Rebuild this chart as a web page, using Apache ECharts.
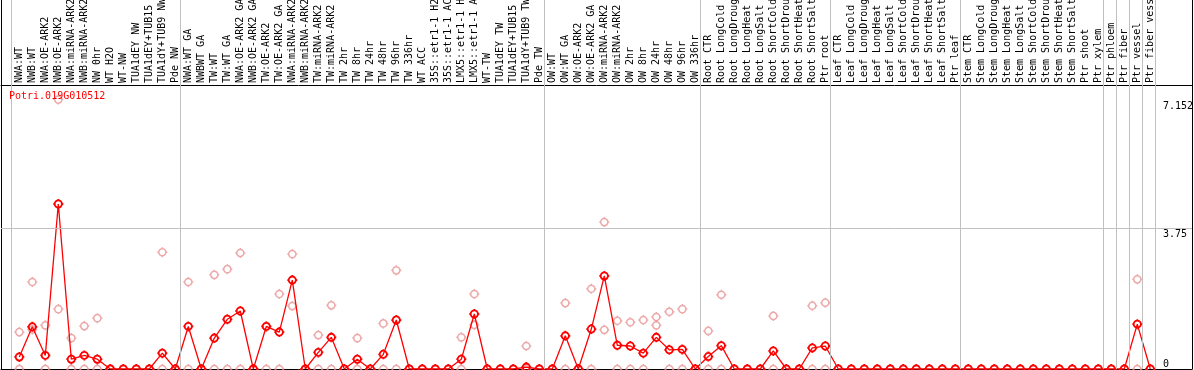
<!DOCTYPE html>
<html><head><meta charset="utf-8">
<script src="https://cdn.jsdelivr.net/npm/echarts@6/dist/echarts.min.js"></script>
<style>html,body{margin:0;padding:0;background:#fff}#c{width:1194px;height:370px}</style>
</head><body><div id="c"></div>
<script>
const seriesName = 'Potri.019G010512';
const categories = [
 'NWA:WT','NWB:WT','NWA:OE-ARK2','NWB:OE-ARK2','NWA:miRNA-ARK2','NWB:miRNA-ARK2','NW 0hr','WT H2O','WT-NW','TUA1dEY NW',
 'TUA1dEY+TUB15 NW','TUA1dY+TUB9 NW','Pde NW','NWA:WT GA','NWBWT GA','TW:WT','TW:WT GA','NWA:OE-ARK2 GA','NWB:OE-ARK2 GA','TW:OE-ARK2',
 'TW:OE-ARK2 GA','NWA:miRNA-ARK2 GA','NWB:miRNA-ARK2 GA','TW:miRNA-ARK2','TW:miRNA-ARK2 GA','TW 2hr','TW 8hr','TW 24hr','TW 48hr','TW 96hr',
 'TW 336hr','WT ACC','35S::etr1-1 H2O','35S::etr1-1 ACC','LMX5::etr1-1 H2O','LMX5::etr1-1 ACC','WT-TW','TUA1dEY TW','TUA1dEY+TUB15 TW','TUA1dY+TUB9 TW',
 'Pde TW','OW:WT','OW:WT GA','OW:OE-ARK2','OW:OE-ARK2 GA','OW:miRNA-ARK2','OW:miRNA-ARK2 GA','OW 2hr','OW 8hr','OW 24hr',
 'OW 48hr','OW 96hr','OW 336hr','Root CTR','Root LongCold','Root LongDrought','Root LongHeat','Root LongSalt','Root ShortCold','Root ShortDrought',
 'Root ShortHeat','Root ShortSalt','Ptr root','Leaf CTR','Leaf LongCold','Leaf LongDrought','Leaf LongHeat','Leaf LongSalt','Leaf ShortCold','Leaf ShortDrought',
 'Leaf ShortHeat','Leaf ShortSalt','Ptr leaf','Stem CTR','Stem LongCold','Stem LongDrought','Stem LongHeat','Stem LongSalt','Stem ShortCold','Stem ShortDrought',
 'Stem ShortHeat','Stem ShortSalt','Ptr shoot','Ptr xylem','Ptr phloem','Ptr fiber','Ptr vessel','Ptr fiber vessel'
];
const meanValues = [
 0.32,1.12,0.36,4.38,0.26,0.36,0.26,0,0,0,
 0,0.42,0,1.13,0,0.82,1.32,1.54,0,1.13,
 0.98,2.36,0,0.44,0.84,0,0.26,0,0.39,1.30,
 0,0,0,0,0.26,1.46,0,0,0,0.05,
 0,0,0.88,0,1.06,2.47,0.63,0.61,0.42,0.84,
 0.51,0.52,0,0.33,0.62,0,0,0,0.48,0,
 0,0.56,0.61,0,0,0,0,0,0,0,
 0,0,0,0,0,0,0,0,0,0,
 0,0,0,0,0,0,1.19,0
];
const replicate1 = [
 0.98,2.31,1.16,7.152,0.82,1.14,1.35,0,0,0,
 0,3.10,0,2.31,0,2.50,2.65,3.08,0,1.13,
 1.99,3.05,0,0.90,1.69,0,0.82,0,1.21,2.62,
 0,0,0,0,0.84,1.99,0,0,0,0.61,
 0,0,1.75,0,2.13,3.90,1.28,1.24,1.30,1.38,
 1.52,1.59,0,1.01,1.97,0,0,0,1.41,0,
 0,1.68,1.76,0,0,0,0,0,0,0,
 0,0,0,0,0,0,0,0,0,0,
 0,0,0,0,0,0,2.38,0
];
const replicate2 = [
 0,1.05,0,1.59,0,0,0,0,0,0,
 0,0,0,0,0,0,0,0,0,0,
 0,1.67,0,0,0,0,0,0,0,0,
 0,0,0,0,0,1.17,0,0,0,0,
 0,0,0,0,0,1.04,0,0,0,1.16,
 0,0,0,0,0,0,0,0,0,0,
 0,0,0,0,0,0,0,0,0,0,
 0,0,0,0,0,0,0,0,0,0,
 0,0,0,0,0,0,0,0
];
const yTickValues = [0, 3.75, 7.152];
const gridLineValue = 3.75;
// last category index of each sample group (group separators)
const groupEnds = [-1, 12, 40, 52, 62, 72, 83, 84, 85, 86, 87];

const FONT = 'DejaVu Sans Mono';
const X_MIN = -1.4077, X_MAX = 90.208, Y_MAX = 7.54;
const SEP_OFFSET = 0.385;
const sym = 'path://M0,-5L0,-3.6M0,3.6L0,5M-5,0L-3.6,0M3.6,0L5,0M3.6,0A3.6,3.6,0,1,1,-3.6,0A3.6,3.6,0,1,1,3.6,0Z';

const idx = categories.map((_, i) => i);
const meanData = meanValues.map((v, i) => [i, v]);
const pinkData = replicate1.map((v, i) => [i, v]).concat(replicate2.map((v, i) => [i, v]));

const chart = echarts.init(document.getElementById('c'), null, {renderer: 'canvas'});
const hiddenAxis = {axisTick:{show:false}, axisLabel:{show:false}, splitLine:{show:false}};
chart.setOption({
  animation: false,
  title: {text: seriesName, left: 9, top: 91, padding: 0,
    textStyle: {color: '#ff0000', fontSize: 10, fontFamily: FONT, fontWeight: 'normal'}},
  grid: [
    {left: 1, right: 2, top: 0, bottom: 1, containLabel: false, outerBoundsMode: 'none'},
    {left: 1, right: 2, top: 85, bottom: 1, containLabel: false, outerBoundsMode: 'none'}
  ],
  xAxis: [
    Object.assign({gridIndex: 0, type: 'value', min: X_MIN, max: X_MAX, position: 'bottom',
      axisLine: {show: true, onZero: false, lineStyle: {color: '#000', width: 1}}}, hiddenAxis),
    {gridIndex: 1, type: 'value', min: X_MIN, max: X_MAX, position: 'top',
      axisLine: {show: true, onZero: false, lineStyle: {color: '#000', width: 1}},
      axisTick: {show: false}, splitLine: {show: false},
      axisLabel: {show: true, customValues: idx, formatter: v => categories[Math.round(v)],
        rotate: -90, align: 'left', verticalAlign: 'middle', margin: 2,
        fontFamily: FONT, fontSize: 10, color: '#000', hideOverlap: false}}
  ],
  yAxis: [
    Object.assign({gridIndex: 0, type: 'value', min: 0, max: 1, position: 'left',
      axisLine: {show: true, onZero: false, lineStyle: {color: '#000', width: 1}}}, hiddenAxis),
    Object.assign({gridIndex: 0, type: 'value', min: 0, max: 1, position: 'right',
      axisLine: {show: true, onZero: false, lineStyle: {color: '#000', width: 1}}}, hiddenAxis),
    {gridIndex: 1, type: 'value', min: 0, max: Y_MAX, position: 'right',
      axisLine: {show: false, onZero: false}, axisTick: {show: false}, splitLine: {show: false},
      axisLabel: {show: true, inside: true, customValues: yTickValues.filter(v => v > 0),
        formatter: v => String(v), align: 'left', verticalAlign: 'top', margin: 29,
        padding: [2, 0, 0, 0],
        fontFamily: FONT, fontSize: 10, color: '#000'}},
    {gridIndex: 1, type: 'value', min: 0, max: Y_MAX, position: 'right',
      axisLine: {show: false, onZero: false}, axisTick: {show: false}, splitLine: {show: false},
      axisLabel: {show: true, inside: true, customValues: yTickValues.filter(v => v === 0),
        formatter: v => String(v), align: 'left', verticalAlign: 'bottom', margin: 29,
        fontFamily: FONT, fontSize: 10, color: '#000'}}
  ],
  series: [
    {type: 'line', xAxisIndex: 0, yAxisIndex: 0, data: [], silent: true,
      markLine: {silent: true, symbol: 'none', animation: false, label: {show: false},
        lineStyle: {color: '#c0c0c0', width: 1, type: 'solid'},
        emphasis: {disabled: true},
        data: groupEnds.map(e => ({xAxis: e + SEP_OFFSET}))}},
    {type: 'scatter', name: 'replicates', xAxisIndex: 1, yAxisIndex: 2, data: pinkData, silent: true,
      symbol: sym, symbolSize: 10,
      itemStyle: {color: 'rgba(0,0,0,0)', borderColor: '#e89494', borderWidth: 1.5},
      markLine: {silent: true, symbol: 'none', animation: false, label: {show: false},
        lineStyle: {color: '#c0c0c0', width: 1, type: 'solid'},
        emphasis: {disabled: true},
        data: [{yAxis: gridLineValue}]}},
    {type: 'line', name: seriesName, xAxisIndex: 1, yAxisIndex: 2, data: meanData, silent: true,
      symbol: sym, symbolSize: 10, showAllSymbol: true,
      lineStyle: {color: '#ff0000', width: 1.3},
      itemStyle: {color: 'rgba(0,0,0,0)', borderColor: '#ff0000', borderWidth: 1.8}}
  ]
});
</script></body></html>
